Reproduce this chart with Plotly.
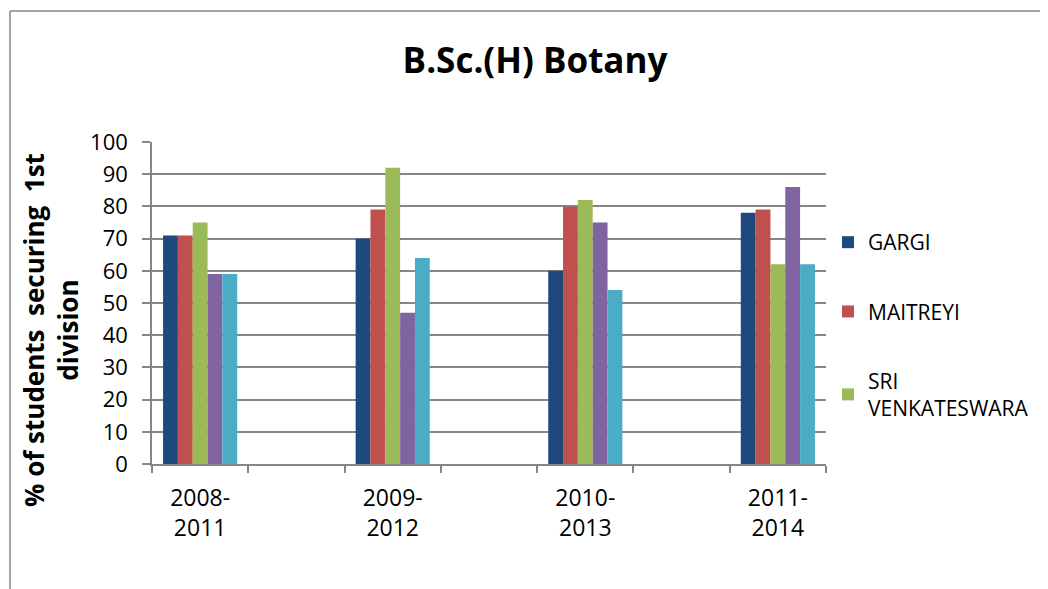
import plotly.graph_objects as go

periods = ["2008-<br>2011", "2009-<br>2012", "2010-<br>2013", "2011-<br>2014"]
spacers = [" ", "  ", "   ", "    "]
series_names = ["GARGI", "MAITREYI", "SRI<br>VENKATESWARA", "Series 4", "Series 5"]
gargi = [71, 70, 60, 78]
maitreyi = [71, 79, 80, 79]
sri_venkateswara = [75, 92, 82, 62]
series4 = [59, 47, 75, 86]
series5 = [59, 64, 54, 62]
show_in_legend = [True, True, True, False, False]
colors = ["#1F497D", "#C0504D", "#9BBB59", "#8064A2", "#4BACC6"]
y_ticks = [0, 10, 20, 30, 40, 50, 60, 70, 80, 90, 100]

category_order = []
for p, s in zip(periods, spacers):
    category_order += [p, s]

FONT = "Open Sans"
OFF = 8  # default page body margin
FW, FH = 1048 - OFF, 589 - OFF

fig = go.Figure()
for i, (name, vals) in enumerate(zip(series_names, [gargi, maitreyi, sri_venkateswara, series4, series5])):
    fig.add_trace(go.Bar(
        x=periods, y=vals, name=name, marker_color=colors[i],
        marker_line_width=0, showlegend=show_in_legend[i], legendgroup=f"g{i}",
    ))

# plot area in screen pixels
PX0, PX1, PY0, PY1 = 152, 826, 142, 464
L, R, T, B = PX0 - OFF, 1048 - PX1, PY0 - OFF, 589 - PY1
W, H = PX1 - PX0, PY1 - PY0

def px(x):
    return (x - PX0) / W

def py(y):
    return (PY1 - y) / H

fig.update_layout(
    width=FW, height=FH,
    margin=dict(l=L, r=R, t=T, b=B),
    paper_bgcolor="white", plot_bgcolor="white",
    barmode="group", bargap=0.23, bargroupgap=0,
    font=dict(family=FONT, size=23, color="black"),
    showlegend=True,
    legend=dict(x=px(828), y=py(222), xanchor="left", yanchor="top",
                font=dict(family=FONT, size=21), tracegroupgap=39,
                bgcolor="rgba(0,0,0,0)", borderwidth=0),
    xaxis=dict(type="category", categoryorder="array", categoryarray=category_order,
               tickson="boundaries", ticks="outside", ticklen=7, tickcolor="#868686",
               tickwidth=1.5,
               showline=True, linecolor="#868686", linewidth=1.5,
               showgrid=False, tickfont=dict(family=FONT, size=23), ticklabelstandoff=13),
    yaxis=dict(range=[0, 100], tickvals=y_ticks, ticks="outside", ticklen=8,
               tickcolor="#868686", tickwidth=1.5, showline=True, linecolor="#868686", linewidth=1.5,
               showgrid=True, gridcolor="#868686", gridwidth=1.5,
               tickfont=dict(family=FONT, size=22), zeroline=False, ticklabelstandoff=10),
    title=dict(text="<b>B.Sc.(H) Botany</b>", x=(535 - OFF) / FW, xanchor="center",
               y=1 - (61 - OFF) / FH, yanchor="middle", font=dict(family=FONT, size=35)),
)

fig.add_annotation(
    text="<b>% of students  securing  1st<br>division</b>", textangle=-90,
    xref="paper", yref="paper", x=px(51), y=py(330), xanchor="center", yanchor="middle",
    showarrow=False, font=dict(family=FONT, size=26), align="center",
)

# chart border (top and left edges visible)
fig.add_shape(type="line", xref="paper", yref="paper", x0=px(10), x1=px(1060),
              y0=py(11), y1=py(11), line=dict(color="#868686", width=1.5))
fig.add_shape(type="line", xref="paper", yref="paper", x0=px(10), x1=px(10),
              y0=py(11), y1=py(600), line=dict(color="#868686", width=1.5))

fig.write_html("out.html")
